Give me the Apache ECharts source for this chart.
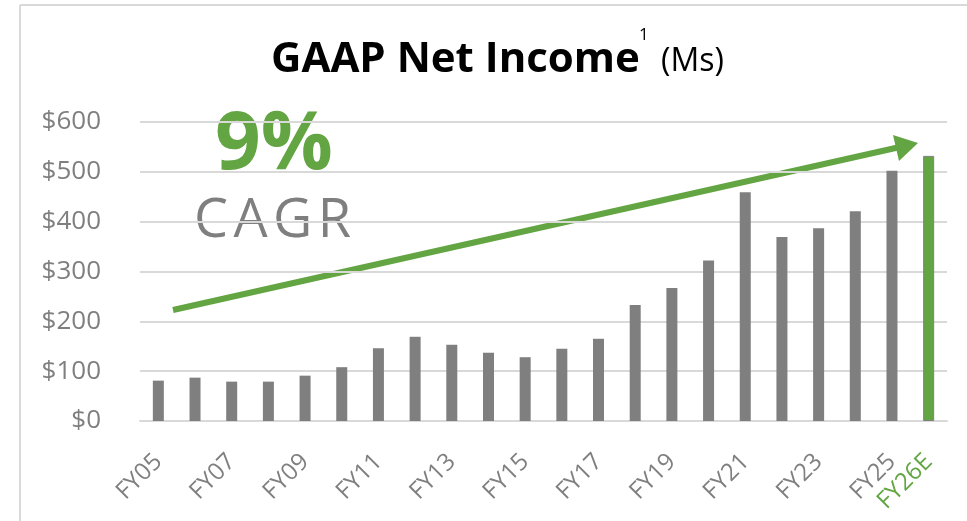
<!DOCTYPE html>
<html>
<head>
<meta charset="utf-8">
<script src="https://cdn.jsdelivr.net/npm/echarts@6/dist/echarts.min.js"></script>
<style>
html,body{margin:0;padding:0;background:#fff;}
#main{width:967px;height:521px;}
</style>
</head>
<body>
<div id="main"></div>
<script>
// 年度 & 净利润 (百万美元)
var years = ["FY05","FY06","FY07","FY08","FY09","FY10","FY11","FY12","FY13","FY14","FY15",
	"FY16","FY17","FY18","FY19","FY20","FY21","FY22","FY23","FY24","FY25","FY26E"];
var netIncome = [81,87,79,79,91,108,146,169,153,137,128,145,165,233,267,322,459,369,387,421,502,532];
var yTicks = [0,100,200,300,400,500,600];

var gray = "#7f7f7f";
var green = "#62a542";
var font = "'Open Sans', sans-serif";

var dom = document.getElementById("main");
var myChart = echarts.init(dom);
var option = {
	animation: false,
	grid: {left: 140, right: 20, top: 122, bottom: 100},
	xAxis: {
		type: 'category',
		data: years,
		axisLine: {lineStyle: {color: '#d9d9d9', width: 2}},
		axisTick: {show: false},
		axisLabel: {
			rotate: 45,
			margin: 37,
			fontSize: 24,
			fontFamily: font,
			interval: function(i){ return i % 2 === 0 || i === years.length - 1; },
			color: function(v){ return v === "FY26E" ? green : gray; }
		}
	},
	yAxis: {
		type: 'value',
		min: yTicks[0],
		max: yTicks[yTicks.length - 1],
		interval: 100,
		axisLine: {show: false},
		axisTick: {show: false},
		splitLine: {lineStyle: {color: '#d9d9d9', width: 2}},
		axisLabel: {
			fontSize: 26,
			fontFamily: font,
			color: gray,
			margin: 39,
			formatter: function(v){ return '$' + v; }
		}
	},
	series: [{
		type: 'bar',
		barWidth: 11,
		data: netIncome.map(function(v, i){
			if (i === netIncome.length - 1) {
				return {value: v, itemStyle: {color: green, borderColor: gray, borderWidth: 1}};
			}
			return {value: v, itemStyle: {color: gray}};
		})
	}],
	graphic: [
		// 边框
		{type: 'line', shape: {x1: 20, y1: 5, x2: 967, y2: 5}, style: {stroke: '#d9d9d9', lineWidth: 2}},
		{type: 'line', shape: {x1: 20, y1: 5, x2: 20, y2: 521}, style: {stroke: '#d9d9d9', lineWidth: 2}},
		// 标题
		{type: 'text', left: 271, top: 39, style: {text: 'GAAP Net Income', font: "bold 42px " + font, fill: '#000'}},
		{type: 'text', left: 639, top: 27, style: {text: '1', font: "17px " + font, fill: '#000'}},
		{type: 'text', left: 661, top: 46, style: {text: '(Ms)', font: "32px " + font, fill: '#000'}},
		// CAGR 箭头
		{type: 'line', shape: {x1: 173, y1: 310, x2: 900, y2: 147}, style: {stroke: green, lineWidth: 6}},
		{type: 'polygon', shape: {points: [[918,143],[893,135],[899,161]]}, style: {fill: green}},
		{type: 'text', left: 215, top: 106, style: {text: '9%', font: "bold 80px " + font, fill: green,
			shadowColor: 'rgba(0,0,0,0.45)', shadowBlur: 5, shadowOffsetX: 3, shadowOffsetY: 4}},
		{type: 'text', left: 194, top: 195, style: {text: 'C\u200aA\u200aG\u200aR', font: "54px " + font, fill: gray}}
	]
};
myChart.setOption(option, true);
</script>
</body>
</html>
